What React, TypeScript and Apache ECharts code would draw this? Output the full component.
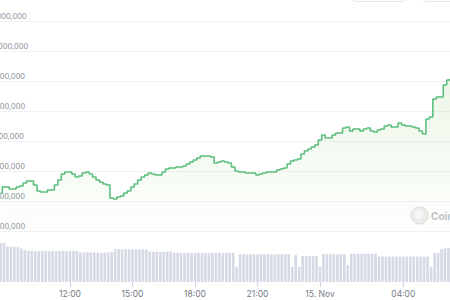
import React, { useEffect, useRef } from "react";
import * as echarts from "echarts";

// Sampling: 10-minute steps starting 14 Nov 08:40 (hours since 14 Nov 00:00)
const startHour = 8 + 40 / 60;
const stepHour = 1 / 6;

const priceValues = [
  5266000, 5466000, 5466000, 5400000, 5400000, 5466000, 5500000, 5600000, 5666000, 5666000,
  5534000, 5334000, 5300000, 5300000, 5366000, 5366000, 5534000, 5700000, 5900000, 5966000,
  5966000, 5900000, 5800000, 5834000, 5934000, 5966000, 5900000, 5800000, 5700000, 5634000,
  5566000, 5534000, 5100000, 5066000, 5134000, 5166000, 5266000, 5334000, 5466000, 5566000,
  5700000, 5800000, 5866000, 5934000, 5900000, 5866000, 5866000, 5966000, 6066000, 6100000,
  6100000, 6134000, 6134000, 6166000, 6234000, 6300000, 6366000, 6434000, 6500000, 6500000,
  6500000, 6466000, 6266000, 6300000, 6334000, 6300000, 6266000, 6134000, 6000000, 5966000,
  5966000, 5934000, 5934000, 5934000, 5866000, 5900000, 5934000, 5966000, 5966000, 5966000,
  6034000, 6066000, 6100000, 6234000, 6334000, 6366000, 6400000, 6566000, 6666000, 6734000,
  6800000, 6866000, 7034000, 7200000, 7100000, 7100000, 7200000, 7266000, 7266000, 7434000,
  7466000, 7334000, 7400000, 7400000, 7334000, 7400000, 7434000, 7334000, 7300000, 7366000,
  7400000, 7500000, 7534000, 7466000, 7466000, 7600000, 7534000, 7500000, 7500000, 7466000,
  7434000, 7334000, 7234000, 7734000, 7800000, 8400000, 8466000, 8466000, 8866000, 9034000,
  9066000,
];

const volumeValues = [
  95, 95, 86, 86, 86, 86, 82, 78,
  76, 76, 75, 76, 76, 76, 75, 76, 76, 76, 76, 75, 76, 76, 76,
  72, 72, 73, 72, 72, 72, 71, 72, 72,
  74,
  80, 80, 79, 80, 80, 80, 79, 80, 80, 80,
  74, 74, 74, 73, 74, 74, 74,
  71, 71, 71, 70, 71, 71, 71, 71, 70, 71, 71, 71, 71, 71, 70, 71, 71, 71,
  37,
  68, 68, 68, 68, 67, 68, 68, 68, 68, 68, 67, 68, 68, 68, 68,
  37, 66, 37,
  63, 63, 63, 63, 63,
  37,
  68, 68, 68, 68, 68, 68, 68,
  41,
  69, 69, 69, 69, 69, 69, 69, 69,
  62, 62, 62, 62, 62, 62, 62, 62, 62, 62, 62, 62, 62, 62, 62,
  37,
  71, 71,
  80, 82, 83, 83,
];

const xTickHours = [12, 15, 18, 21, 24, 28];
const xTickLabels = ["12:00", "15:00", "18:00", "21:00", "15. Nov", "04:00"];

const xMin = 8.64;
const xMax = 30.24;
const priceMin = 4000000;
const priceMax = 11000000;
const priceStep = 1000000;

export default function App() {
  const ref = useRef<HTMLDivElement>(null);

  useEffect(() => {
    if (!ref.current) return;
    const chart = echarts.init(ref.current, null, { renderer: "svg" });
    const priceData = priceValues.map((v, i) => [startHour + i * stepHour, v]);
    const volData = volumeValues.map((v, i) => [startHour + i * stepHour, v]);
    const font = "Inter, 'Noto Sans', sans-serif";

    chart.setOption({
      animation: false,
      backgroundColor: "#ffffff",
      grid: [
        { left: 0, right: 0, top: 21, bottom: 69, containLabel: false, outerBoundsMode: "none" },
        { left: 0, right: 0, top: 241, bottom: 18, containLabel: false, outerBoundsMode: "none" },
      ],
      xAxis: [
        {
          type: "value",
          gridIndex: 0,
          min: xMin,
          max: xMax,
          show: false,
        },
        {
          type: "value",
          gridIndex: 1,
          min: xMin,
          max: xMax,
          axisLine: { show: false },
          splitLine: { show: false },
          axisTick: {
            show: true,
            customValues: xTickHours,
            length: 5,
            lineStyle: { color: "#ccd1da", width: 1 },
          },
          axisLabel: {
            show: true,
            customValues: xTickHours,
            margin: 7,
            fontSize: 8.5,
            fontFamily: font,
            color: "#757a85",
            formatter: (v: number) => {
              const idx = xTickHours.indexOf(Math.round(v));
              return idx >= 0 ? xTickLabels[idx] : "";
            },
          },
        },
      ],
      yAxis: [
        {
          type: "value",
          gridIndex: 0,
          min: priceMin,
          max: priceMax,
          interval: priceStep,
          axisLine: { show: false },
          axisTick: { show: false },
          splitLine: { show: true, lineStyle: { color: "#f1f2f4", width: 1 } },
          axisLabel: {
            align: "left",
            verticalAlign: "bottom",
            lineHeight: 9,
            margin: 11.5,
            fontSize: 7.5,
            fontFamily: font,
            color: "#8a8f99",
            formatter: (v: number) => v.toLocaleString("en-US"),
          },
        },
        {
          type: "value",
          gridIndex: 1,
          min: 0,
          max: 100,
          show: false,
        },
      ],
      series: [
        {
          type: "line",
          xAxisIndex: 0,
          yAxisIndex: 0,
          data: priceData,
          step: "middle",
          showSymbol: false,
          lineStyle: { color: "#5cbf7e", width: 1.6 },
          areaStyle: {
            color: new echarts.graphic.LinearGradient(0, 0, 0, 1, [
              { offset: 0, color: "rgba(150,205,120,0.25)" },
              { offset: 1, color: "rgba(150,205,120,0.02)" },
            ]),
          },
          z: 3,
        },
        {
          type: "bar",
          xAxisIndex: 1,
          yAxisIndex: 1,
          data: volData,
          barWidth: 2.6,
          itemStyle: { color: "#d4d9e3" },
        },
      ],
      graphic: [
        {
          type: "rect",
          shape: { x: 352.5, y: -20, width: 54, height: 21.5, r: 4 },
          style: { fill: "#ffffff", stroke: "#e2e4e8", lineWidth: 1 },
        },
        {
          type: "rect",
          shape: { x: 422.5, y: -20, width: 40, height: 21.5, r: 4 },
          style: { fill: "#ffffff", stroke: "#e2e4e8", lineWidth: 1 },
        },
        {
          type: "circle",
          shape: { cx: 419.5, cy: 215.5, r: 8.5 },
          style: { fill: "#eeeeee", stroke: "#dddddd", lineWidth: 1 },
        },
        {
          type: "circle",
          shape: { cx: 418.5, cy: 214.5, r: 4.5 },
          style: { fill: "#f8f8f8" },
        },
        {
          type: "text",
          x: 431,
          y: 215.5,
          style: {
            text: "CoinGecko",
            fill: "#c2c2c2",
            font: "bold 10px Inter, sans-serif",
            verticalAlign: "middle",
          },
        },
      ],
    });

    return () => chart.dispose();
  }, []);

  return (
    <div
      ref={ref}
      style={{ position: "fixed", left: 0, top: 0, width: 450, height: 300 }}
    />
  );
}
